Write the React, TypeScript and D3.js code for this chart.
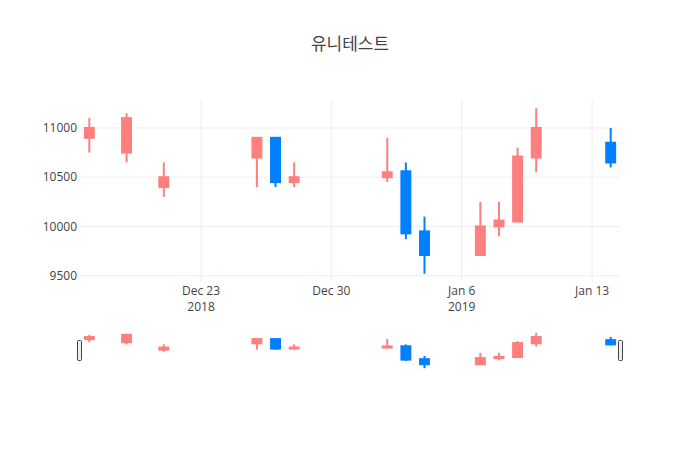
import * as d3 from "d3";
import React from "react";

const dates = [
  "2018-12-17", "2018-12-19", "2018-12-21", "2018-12-26", "2018-12-27", "2018-12-28",
  "2019-01-02", "2019-01-03", "2019-01-04", "2019-01-07", "2019-01-08", "2019-01-09",
  "2019-01-10", "2019-01-14",
];
const opens = [10900, 10750, 10400, 10700, 10900, 10450, 10500, 10560, 9950, 9710, 10000, 10050, 10700, 10850];
const highs = [11100, 11150, 10650, 10900, 10900, 10650, 10900, 10650, 10100, 10250, 10250, 10800, 11200, 11000];
const lows = [10750, 10650, 10300, 10400, 10400, 10400, 10450, 9870, 9520, 9710, 9900, 10050, 10550, 10600];
const closes = [11000, 11100, 10500, 10900, 10450, 10500, 10550, 9930, 9710, 10000, 10060, 10710, 11000, 10650];

const yTicks = [9500, 10000, 10500, 11000];
const xTickDates = ["2018-12-23", "2018-12-30", "2019-01-06", "2019-01-13"];
const xTickLabels = ["Dec 23", "Dec 30", "Jan 6", "Jan 13"];
const xTickYears = ["2018", "", "2019", ""];

const title = "유니테스트";
const upColor = "#ff7f7f";
const downColor = "#0080ff";

const W = 700;
const H = 450;
const margin = { left: 80, right: 80 };
const mainTop = 100;
const mainBottom = 282;
const sliderTop = 331;
const sliderBottom = 370;

const parse = (s: string) => new Date(s + "T00:00:00Z");
const DAY = 86400000;

const App: React.FC = () => {
  const t = dates.map(parse);
  const x = d3
    .scaleUtc()
    .domain([new Date(+t[0] - DAY / 2), new Date(+t[t.length - 1] + DAY / 2)])
    .range([margin.left, W - margin.right]);
  const yMain = d3.scaleLinear().domain([9436, 11284]).range([mainBottom, mainTop]);
  const ySlider = d3.scaleLinear().domain([9436, 11284]).range([sliderBottom, sliderTop]);

  const dayPx = x(new Date(+t[0] + DAY)) - x(t[0]);
  const bodyW = dayPx * 0.48;

  const candles = (y: d3.ScaleLinear<number, number>, key: string) =>
    t.map((d, i) => {
      const up = closes[i] >= opens[i];
      const c = up ? upColor : downColor;
      const cx = x(d);
      const top = y(Math.max(opens[i], closes[i]));
      const bot = y(Math.min(opens[i], closes[i]));
      return (
        <g key={key + i}>
          <line x1={cx} x2={cx} y1={y(highs[i])} y2={y(lows[i])} stroke={c} strokeWidth={2} />
          <rect
            x={cx - bodyW / 2}
            y={top}
            width={bodyW}
            height={Math.max(bot - top, 0.5)}
            fill={c}
            stroke={c}
            strokeWidth={2}
          />
        </g>
      );
    });

  const font = '"Open Sans", "Noto Sans CJK KR", sans-serif';
  const sliderMid = (sliderTop + sliderBottom) / 2;

  return (
    <svg width={W} height={H} style={{ display: "block", margin: -8, fontFamily: font }}>
      <rect width={W} height={H} fill="#fff" />
      {/* grid */}
      {yTicks.map((v) => (
        <line key={"gy" + v} x1={margin.left} x2={W - margin.right} y1={yMain(v)} y2={yMain(v)} stroke="#eee" />
      ))}
      {xTickDates.map((s) => (
        <line key={"gx" + s} x1={x(parse(s))} x2={x(parse(s))} y1={mainTop} y2={mainBottom} stroke="#eee" />
      ))}
      {/* y labels */}
      {yTicks.map((v) => (
        <text key={"ty" + v} x={margin.left - 3} y={yMain(v)} dy="0.35em" textAnchor="end" fontSize={12} fill="#444">
          {v}
        </text>
      ))}
      {/* x labels */}
      {xTickDates.map((s, i) => (
        <text key={"tx" + s} x={x(parse(s))} y={295} textAnchor="middle" fontSize={12} fill="#444">
          {xTickLabels[i]}
          {xTickYears[i] && (
            <tspan x={x(parse(s))} dy={16}>
              {xTickYears[i]}
            </tspan>
          )}
        </text>
      ))}
      {candles(yMain, "m")}
      {/* range slider */}
      {candles(ySlider, "s")}
      <rect x={margin.left - 2.5} y={sliderMid - 10} width={4} height={20} rx={1} fill="#eee" stroke="#444" />
      <rect x={W - margin.right - 1.5} y={sliderMid - 10} width={4} height={20} rx={1} fill="#eee" stroke="#444" />
      <text x={W / 2} y={50} textAnchor="middle" fontSize={17} fill="#444">
        {title}
      </text>
    </svg>
  );
};

export default App;
